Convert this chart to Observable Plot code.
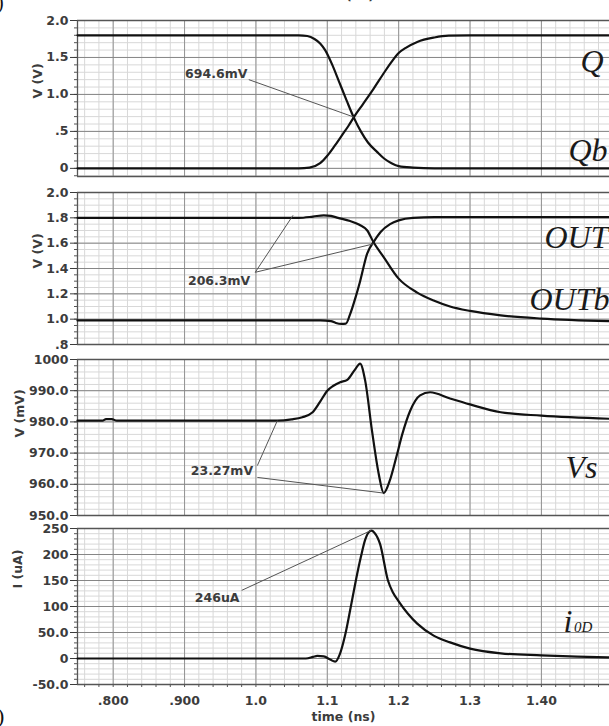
<!DOCTYPE html>
<html><head><meta charset="utf-8">
<script src="https://cdn.jsdelivr.net/npm/d3@7"></script>
<script src="https://cdn.jsdelivr.net/npm/@observablehq/plot@0.6"></script>
<style>
html,body{margin:0;padding:0;background:#fff;overflow:hidden;width:609px;height:726px}
#chart{position:relative;width:609px;height:726px;overflow:hidden}
#chart svg{position:absolute;left:0;overflow:visible}
.frag{position:absolute;font-family:"Liberation Serif",serif;color:#111;white-space:nowrap}
</style></head><body><div id="chart"></div>
<script>
// ---- shared time axis ----
const xDomain = [0.75, 1.4954];
const xMajor = [0.8, 0.9, 1.0, 1.1, 1.2, 1.3, 1.4, 1.5];
const xMajorLabels = [".800", ".900", "1.0", "1.1", "1.2", "1.3", "1.40", ""];
const xMinorStep = 0.02;

// ---- panel 1: Q / Qb ----
const p1Ticks = [0, 0.5, 1.0, 1.5, 2.0];
const p1Labels = ["0", ".5", "1.0", "1.5", "2.0"];
const qTime  = [0.75,1.06,1.075,1.09,1.10,1.11,1.12,1.13,1.137,1.15,1.165,1.18,1.19,1.20,1.21,1.226,1.25,1.27,1.30,1.4954];
const qVolt  = [0,0,0.01,0.07,0.17,0.30,0.44,0.58,0.69,0.87,1.08,1.30,1.44,1.56,1.63,1.71,1.77,1.795,1.80,1.80];
const qbTime = [0.75,1.06,1.072,1.082,1.09,1.097,1.107,1.117,1.127,1.137,1.147,1.157,1.17,1.18,1.19,1.20,1.22,1.25,1.4954];
const qbVolt = [1.8,1.8,1.79,1.75,1.69,1.60,1.40,1.16,0.92,0.69,0.50,0.35,0.22,0.13,0.07,0.03,0.01,0,0];

// ---- panel 2: OUT / OUTb ----
const p2Ticks = [0.8, 1.0, 1.2, 1.4, 1.6, 1.8, 2.0];
const p2Labels = [".8", "1.0", "1.2", "1.4", "1.6", "1.8", "2.0"];
const outTime  = [0.75,1.06,1.08,1.095,1.105,1.115,1.132,1.145,1.156,1.165,1.179,1.20,1.226,1.249,1.272,1.30,1.343,1.40,1.4954];
const outVolt  = [1.8,1.8,1.81,1.82,1.815,1.80,1.775,1.745,1.70,1.605,1.49,1.32,1.21,1.147,1.10,1.065,1.03,1.005,0.985];
const outbTime = [0.75,1.07,1.09,1.105,1.112,1.12,1.126,1.132,1.14,1.146,1.156,1.165,1.175,1.188,1.20,1.22,1.25,1.4954];
const outbVolt = [0.99,0.99,0.99,0.985,0.97,0.963,0.965,1.04,1.18,1.30,1.52,1.61,1.69,1.75,1.78,1.80,1.805,1.805];

// ---- panel 3: Vs (mV) ----
const p3Ticks = [950, 960, 970, 980, 990, 1000];
const p3Labels = ["950.0", "960.0", "970.0", "980.0", "990.0", "1000"];
const vsTime = [0.75,0.785,0.79,0.798,0.805,1.03,1.05,1.065,1.079,1.09,1.10,1.108,1.118,1.128,1.138,1.146,1.153,1.1626,1.172,1.179,1.188,1.197,1.205,1.216,1.23,1.244,1.272,1.30,1.343,1.40,1.4954];
const vsVolt = [980.4,980.4,980.9,980.9,980.4,980.4,980.8,981.5,983,986.5,990,991.5,992.7,993.5,996.5,998.7,993.3,977.2,963.4,957.2,961.5,969,976,983.5,988.5,989.5,987.5,985.6,983.1,982,981];

// ---- panel 4: i0D (uA) ----
const p4Ticks = [-50, 0, 50, 100, 150, 200, 250];
const p4Labels = ["-50.0", "0", "50.0", "100", "150", "200", "250"];
const iTime = [0.75,1.07,1.08,1.086,1.095,1.104,1.111,1.118,1.125,1.133,1.14,1.147,1.153,1.158,1.162,1.166,1.174,1.185,1.192,1.2,1.213,1.226,1.249,1.272,1.30,1.343,1.40,1.45,1.4954];
const iAmp  = [0,0,3,5,4,-2,-6,10,45,100,150,195,228,243,246,242,220,150,127,110,86,67,44,31,19,10,6,3.5,2];

// ---- annotations (data coordinates) ----
const ann1Text = {s: "694.6mV", t: 0.988, v: 1.27};
const ann1Links = [{t1: 0.990, v1: 1.20, t2: 1.137, v2: 0.6946}];
const ann2Text = {s: "206.3mV", t: 0.992, v: 1.305};
const ann2Links = [{t1: 0.999, v1: 1.37, t2: 1.1645, v2: 1.594}, {t1: 0.999, v1: 1.37, t2: 1.052, v2: 1.82}];
const ann3Text = {s: "23.27mV", t: 0.996, v: 964.4};
const ann3Links = [{t1: 1.002, v1: 966.0, t2: 1.030, v2: 980.4}, {t1: 1.002, v1: 962.2, t2: 1.1785, v2: 957.2}];
const ann4Text = {s: "246uA", t: 0.977, v: 117};
const ann4Links = [{t1: 0.980, v1: 131, t2: 1.161, v2: 246}];

// ---- curve names (baseline positions) ----
const p1Names = [{s: "Q", t: 1.487, v: 1.31}, {s: "Qb", t: 1.4926, v: 0.095}];
const p2Names = [{s: "OUT", t: 1.494, v: 1.558}, {s: "OUTb", t: 1.4954, v: 1.069}];
const p3Names = [{s: "Vs", t: 1.4786, v: 961.9}];
const p4NameMain = [{s: "i", t: 1.431, v: 51.9}];
const p4NameSub = [{s: "0D", t: 1.4455, v: 51.9}];

const zipTV = (t, v) => t.map((d, i) => ({t: d, v: v[i]}));

const panels = [
  {T: 20, H: 156, domain: [-0.11, 2.0], ticks: p1Ticks, labels: p1Labels, minorStep: 0.1, minorStart: -0.1,
   ylabel: "V (V)", ldx: -40, ldy: 0, series: [zipTV(qTime, qVolt), zipTV(qbTime, qbVolt)],
   annText: ann1Text, annLinks: ann1Links, names: p1Names},
  {T: 192, H: 152, domain: [0.8, 2.0], ticks: p2Ticks, labels: p2Labels, minorStep: 0.05, minorStart: 0.8,
   ylabel: "V (V)", ldx: -40, ldy: 0, series: [zipTV(outTime, outVolt), zipTV(outbTime, outbVolt)],
   annText: ann2Text, annLinks: ann2Links, names: p2Names},
  {T: 359, H: 156, domain: [950, 1000], ticks: p3Ticks, labels: p3Labels, minorStep: 2, minorStart: 950,
   ylabel: "V (mV)", ldx: -58, ldy: 0, series: [zipTV(vsTime, vsVolt)],
   annText: ann3Text, annLinks: ann3Links, names: p3Names},
  {T: 528, H: 156, domain: [-50, 250], ticks: p4Ticks, labels: p4Labels, minorStep: 10, minorStart: -50,
   ylabel: "I (uA)", ldx: -60, ldy: -18, series: [zipTV(iTime, iAmp)],
   annText: ann4Text, annLinks: ann4Links, names: p4NameMain, sub: p4NameSub, last: true}
];

const xMinor = d3.range(0.76, 1.5, xMinorStep);
const xLabelMap = new Map(xMajor.map((d, i) => [d, xMajorLabels[i]]));
const tickFont = {fontSize: 12.5, fontWeight: "bold"};
const chart = document.getElementById("chart");

for (const p of panels) {
  const mt = 10, mb = p.last ? 42 : 6;
  const height = mt + p.H + mb;
  const labelMap = new Map(p.ticks.map((d, i) => [d, p.labels[i]]));
  const yMinor = d3.range(p.minorStart, p.domain[1] + p.minorStep / 100, p.minorStep);
  const marks = [
    Plot.ruleX(xMinor, {stroke: "#d8d8d8", strokeWidth: 1}),
    Plot.ruleY(yMinor, {stroke: "#d8d8d8", strokeWidth: 1}),
    Plot.ruleX(xMajor.filter(d => d <= xDomain[1]), {stroke: "#939393", strokeWidth: 1}),
    Plot.ruleY(p.ticks, {stroke: "#868686", strokeWidth: 1}),
    Plot.ruleY(p.domain, {stroke: "#555", strokeWidth: 1.3}),
    Plot.ruleX([xDomain[0]], {stroke: "#555", strokeWidth: 1.3}),
    Plot.axisY(yMinor, {tickSize: 3, tickFormat: () => "", label: null, color: "#555"}),
    Plot.axisY(p.ticks, {tickSize: 7, tickPadding: 2, tickFormat: d => labelMap.get(d), label: null, color: "#3c3c3c", ...tickFont}),
    Plot.text([p.ylabel], {text: d => d, frameAnchor: "left", rotate: -90, dx: p.ldx, dy: p.ldy, fill: "#3c3c3c", ...tickFont}),
    ...p.series.map(s => Plot.line(s, {x: "t", y: "v", stroke: "#111", strokeWidth: 2.2, curve: "monotone-x"})),
    Plot.link(p.annLinks, {x1: "t1", y1: "v1", x2: "t2", y2: "v2", stroke: "#555", strokeWidth: 1}),
    Plot.text([p.annText], {x: "t", y: "v", text: "s", textAnchor: "end", fill: "#3c3c3c", ...tickFont})
  ];
  if (p.sub) {
    marks.push(Plot.text(p.names, {x: "t", y: "v", text: "s", textAnchor: "start", lineAnchor: "bottom", fontFamily: "Liberation Serif", fontStyle: "italic", fontSize: 32, fill: "#1a1a1a"}));
    marks.push(Plot.text(p.sub, {x: "t", y: "v", text: "s", textAnchor: "start", lineAnchor: "bottom", fontFamily: "Liberation Serif", fontStyle: "italic", fontSize: 15, fill: "#1a1a1a"}));
  } else {
    marks.push(Plot.text(p.names, {x: "t", y: "v", text: "s", textAnchor: "end", lineAnchor: "bottom", fontFamily: "Liberation Serif", fontStyle: "italic", fontSize: 32, fill: "#1a1a1a"}));
  }
  if (p.last) {
    marks.push(Plot.axisX(xMinor, {tickSize: 3, tickFormat: () => "", label: null, color: "#555"}));
    marks.push(Plot.axisX(xMajor.filter(d => d <= xDomain[1]), {tickSize: 0, tickPadding: 12, tickFormat: d => xLabelMap.get(d), label: null, color: "#3c3c3c", ...tickFont}));
    marks.push(Plot.text(["time (ns)"], {text: d => d, frameAnchor: "bottom", dy: 36, fill: "#3c3c3c", ...tickFont}));
  }
  const svg = Plot.plot({
    width: 609, height,
    marginLeft: 77, marginRight: 0, marginTop: mt, marginBottom: mb,
    x: {domain: xDomain, axis: null},
    y: {domain: p.domain, axis: null},
    style: {fontFamily: "DejaVu Sans", background: "transparent", overflow: "visible"},
    marks
  });
  svg.style.top = (p.T - mt) + "px";
  chart.appendChild(svg);
}

// fragments of neighbouring figure labels cut by the crop
const frags = [
  {s: ")", left: -3, top: -9, size: 20},
  {s: ")", left: -3, top: 703, size: 22}
];
for (const f of frags) {
  const d = document.createElement("div");
  d.className = "frag";
  d.textContent = f.s;
  d.style.left = f.left + "px"; d.style.top = f.top + "px"; d.style.fontSize = f.size + "px";
  chart.appendChild(d);
}
const topCut = document.createElement("div");
topCut.className = "frag";
topCut.textContent = "time (ns)";
topCut.style.cssText += "font-family:'DejaVu Sans';font-weight:bold;font-size:12.5px;color:#3c3c3c;left:310px;top:-12px;";
chart.appendChild(topCut);
</script>
</body></html>
